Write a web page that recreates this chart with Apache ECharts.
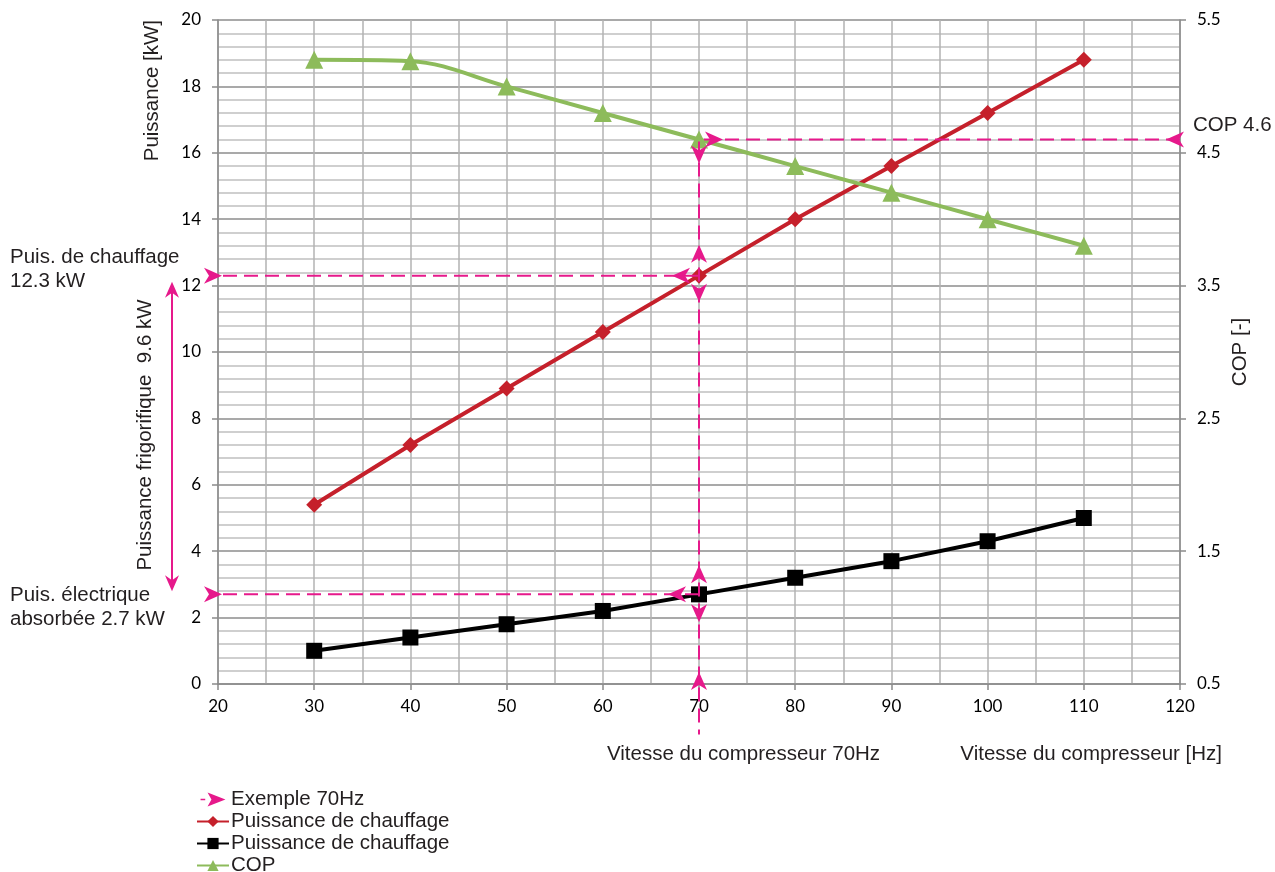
<!DOCTYPE html>
<html><head><meta charset="utf-8">
<script src="https://cdn.jsdelivr.net/npm/echarts@6/dist/echarts.min.js"></script>
<style>html,body{margin:0;padding:0;background:#fff}#c{width:1275px;height:872px}</style>
</head><body><div id="c"></div>
<script>
// ---- data ----
const hz = [30, 40, 50, 60, 70, 80, 90, 100, 110];
const heating = [5.4, 7.2, 8.9, 10.6, 12.3, 14.0, 15.6, 17.2, 18.8];
const electric = [1.0, 1.4, 1.8, 2.2, 2.7, 3.2, 3.7, 4.3, 5.0];
const cop = [5.2, 5.19, 5.0, 4.8, 4.6, 4.4, 4.2, 4.0, 3.8];
const copTicks = [0.5, 1.5, 2.5, 3.5, 4.5, 5.5];
const exampleHz = 70;
const exampleHeat = 12.3;
const exampleElec = 2.7;
const exampleCold = 9.6;
const exampleCop = 4.6;

const pink = '#E6198B';
const txt = '#231F20';
const sans = 'Liberation Sans, Arial, sans-serif';
const tickFont = 'Lato, sans-serif';
const fs = 20.5;

const chart = echarts.init(document.getElementById('c'));
const pairs = arr => hz.map((x, i) => [x, arr[i]]);
const dash = { color: pink, width: 2, type: [14, 7] };

chart.setOption({
  animation: false,
  backgroundColor: '#fff',
  grid: { left: 218, right: 95, top: 20, bottom: 188, containLabel: false },
  legend: {
    orient: 'vertical', left: 196, top: 789, height: 120, itemGap: 1, padding: 0,
    itemWidth: 32, itemHeight: 14,
    textStyle: { fontFamily: sans, fontSize: fs, color: txt, lineHeight: 20, padding: [0, 0, 0, -3] },
    data: [
      { name: 'Exemple 70Hz', icon: 'path://M0,9 L6,9 L6,11 L0,11 Z M9,1 L32,10 L9,19 L14,10 Z' },
      { name: 'Puissance de chauffage' },
      { name: 'Puissance de chauffage ' },
      { name: 'COP' }
    ]
  },
  xAxis: {
    type: 'value', min: 20, max: 120, interval: 10,
    axisLine: { show: true, lineStyle: { color: '#8a8a8a', width: 1.5 } },
    axisTick: { show: true, length: 6, lineStyle: { color: '#8a8a8a', width: 1.5 } },
    axisLabel: { margin: 14, fontFamily: tickFont, fontSize: 17, color: '#000' },
    splitLine: { show: true, lineStyle: { color: '#b3b3b3', width: 1.5 } },
    minorTick: { show: false, splitNumber: 2 },
    minorSplitLine: { show: true, lineStyle: { color: '#b3b3b3', width: 1.5 } }
  },
  yAxis: [
    {
      type: 'value', min: 0, max: 20, interval: 2, position: 'left',
      axisLine: { show: true, lineStyle: { color: '#8a8a8a', width: 1.5 } },
      axisTick: { show: true, length: 6, lineStyle: { color: '#8a8a8a', width: 1.5 } },
      axisLabel: { margin: 17, fontFamily: tickFont, fontSize: 17, color: '#000' },
      splitLine: { show: true, lineStyle: { color: '#8c8c8c', width: 1.5 } },
      minorTick: { show: false, splitNumber: 5 },
      minorSplitLine: { show: true, lineStyle: { color: '#c0c0c0', width: 1.5 } }
    },
    {
      type: 'value', min: 0.5, max: 5.5, position: 'right',
      axisLine: { show: true, lineStyle: { color: '#8a8a8a', width: 1.5 } },
      axisTick: { show: true, length: 6, customValues: copTicks, lineStyle: { color: '#8a8a8a', width: 1.5 } },
      axisLabel: { margin: 17, fontFamily: tickFont, fontSize: 17, color: '#000', customValues: copTicks,
        formatter: v => v.toFixed(1) },
      splitLine: { show: false }
    }
  ],
  series: [
    {
      name: 'Puissance de chauffage', type: 'line', data: pairs(heating),
      color: '#C5202B', lineStyle: { width: 4 }, symbol: 'diamond', symbolSize: 16, z: 3
    },
    {
      name: 'Puissance de chauffage ', type: 'line', data: pairs(electric),
      color: '#000000', lineStyle: { width: 4 }, symbol: 'rect', symbolSize: 16, z: 3
    },
    {
      name: 'COP', type: 'line', yAxisIndex: 1, data: pairs(cop), smooth: 0.35,
      color: '#8DBB5B', lineStyle: { width: 4 }, symbol: 'triangle', symbolSize: 18, z: 3
    },
    {
      name: 'Exemple 70Hz', type: 'line', yAxisIndex: 1, clip: false, showSymbol: false, silent: true, z: 6,
      color: pink, lineStyle: dash,
      data: [[120, exampleCop], [exampleHz, exampleCop], [exampleHz, 0.12]]
    },
    {
      name: 'Exemple 70Hz', type: 'line', yAxisIndex: 0, clip: false, showSymbol: false, silent: true, z: 6,
      color: pink, lineStyle: dash,
      data: [[exampleHz, exampleHeat], [14.5, exampleHeat]]
    },
    {
      name: 'Exemple 70Hz', type: 'line', yAxisIndex: 0, clip: false, showSymbol: false, silent: true, z: 6,
      color: pink, lineStyle: dash,
      data: [[exampleHz, exampleElec], [14, exampleElec]]
    }
  ]
});

// ---- annotations positioned through the axes ----
const P = (x, y, ax) => chart.convertToPixel({ xAxisIndex: 0, yAxisIndex: ax || 0 }, [x, y]);
const pc = P(exampleHz, exampleCop, 1);
const ph = P(exampleHz, exampleHeat);
const pe = P(exampleHz, exampleElec);
const p0 = P(exampleHz, 0);
const leftEdge = P(20, 0)[0];
const rightEdge = P(120, 0)[0];
const topEdge = P(20, 20)[1];
const copMid = P(120, 3.0, 1)[1];

function arrow(tx, ty, dir, L, W) {
  L = L || 18; W = W || 16;
  const d = { r: [1, 0], l: [-1, 0], u: [0, -1], d: [0, 1] }[dir];
  const n = [-d[1], d[0]];
  const bx = tx - d[0] * L, by = ty - d[1] * L;
  const nx = tx - d[0] * (L - 5), ny = ty - d[1] * (L - 5);
  return {
    type: 'polygon', z: 100, silent: true,
    shape: { points: [[tx, ty], [bx + n[0] * W / 2, by + n[1] * W / 2], [nx, ny], [bx - n[0] * W / 2, by - n[1] * W / 2]] },
    style: { fill: pink }
  };
}
function text(x, y, s, opt) {
  opt = opt || {};
  return {
    type: 'text', x: x, y: y, z: 100, silent: true, rotation: opt.rot || 0,
    style: { text: s, fontFamily: sans, fontSize: fs, fill: txt, align: opt.align || 'left',
      verticalAlign: opt.va || 'middle', lineHeight: opt.lh || 24 }
  };
}

const arrowX = leftEdge - 46;
const g = [
  arrow(pc[0] + 24, pc[1], 'r'),
  arrow(pc[0], pc[1] + 24, 'd'),
  arrow(rightEdge - 14, pc[1], 'l'),
  arrow(ph[0] - 27, ph[1], 'l'),
  arrow(ph[0], ph[1] - 31, 'u'),
  arrow(ph[0], ph[1] + 26, 'd'),
  arrow(leftEdge + 4, ph[1], 'r'),
  arrow(pe[0] - 31, pe[1], 'l'),
  arrow(pe[0], pe[1] - 29, 'u'),
  arrow(pe[0], pe[1] + 28, 'd'),
  arrow(leftEdge + 4, pe[1], 'r'),
  arrow(p0[0], p0[1] - 12, 'u'),
  { type: 'line', z: 100, silent: true,
    shape: { x1: arrowX, y1: ph[1] + 14, x2: arrowX, y2: pe[1] - 12 },
    style: { stroke: pink, lineWidth: 2 } },
  arrow(arrowX, ph[1] + 6, 'u', 16, 14),
  arrow(arrowX, pe[1] - 3, 'd', 16, 14),
  text(10, ph[1] - 6, 'Puis. de chauffage\n' + exampleHeat + ' kW'),
  text(10, pe[1] + 13, 'Puis. électrique\nabsorbée ' + exampleElec + ' kW'),
  text(rightEdge + 13, pc[1] - 14, 'COP ' + exampleCop),
  text(p0[0] - 92, p0[1] + 70, 'Vitesse du compresseur ' + exampleHz + 'Hz'),
  text(rightEdge + 42, p0[1] + 70, 'Vitesse du compresseur [Hz]', { align: 'right' }),
  text(leftEdge - 66, topEdge, 'Puissance [kW]', { rot: Math.PI / 2, align: 'right' }),
  text(rightEdge + 60, copMid, 'COP [-]', { rot: Math.PI / 2, align: 'center' }),
  text(leftEdge - 73, (ph[1] + pe[1]) / 2, 'Puissance frigorifique  ' + exampleCold + ' kW', { rot: Math.PI / 2, align: 'center' })
];
chart.setOption({ graphic: g });
</script>
</body></html>
